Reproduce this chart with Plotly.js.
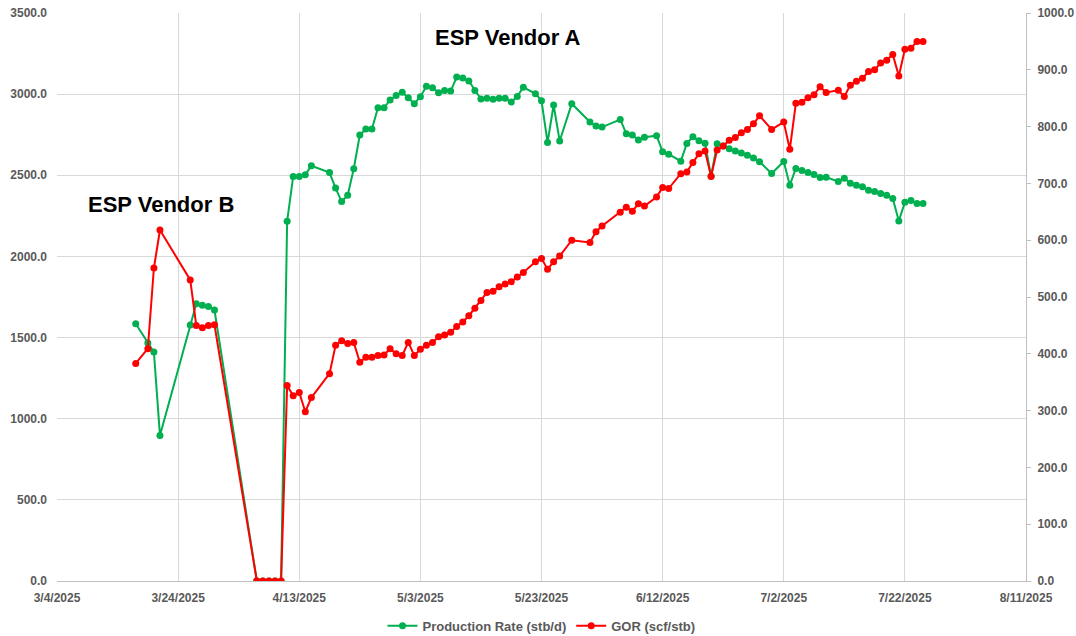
<!DOCTYPE html>
<html>
<head>
<meta charset="utf-8">
<script src="https://cdn.plot.ly/plotly-3.0.1.min.js"></script>
<style>html,body{margin:0;padding:0;background:#fff;}#chart{width:1076px;height:636px;}</style>
</head>
<body>
<div id="chart"></div>
<script>
const dates = [
  '2025-03-17','2025-03-19','2025-03-20','2025-03-21','2025-03-26','2025-03-27','2025-03-28','2025-03-29','2025-03-30',
  '2025-04-06','2025-04-07','2025-04-08','2025-04-09','2025-04-10',
  '2025-04-11','2025-04-12','2025-04-13','2025-04-14','2025-04-15','2025-04-18','2025-04-19','2025-04-20','2025-04-21',
  '2025-04-22','2025-04-23','2025-04-24','2025-04-25','2025-04-26','2025-04-27','2025-04-28','2025-04-29','2025-04-30',
  '2025-05-01','2025-05-02','2025-05-03','2025-05-04','2025-05-05','2025-05-06','2025-05-07','2025-05-08','2025-05-09',
  '2025-05-10','2025-05-11','2025-05-12','2025-05-13','2025-05-14','2025-05-15','2025-05-16','2025-05-17','2025-05-18',
  '2025-05-19','2025-05-20','2025-05-22','2025-05-23','2025-05-24','2025-05-25','2025-05-26','2025-05-28','2025-05-31',
  '2025-06-01','2025-06-02','2025-06-05','2025-06-06','2025-06-07','2025-06-08','2025-06-09','2025-06-11','2025-06-12',
  '2025-06-13','2025-06-15','2025-06-16','2025-06-17','2025-06-18','2025-06-19','2025-06-20','2025-06-21','2025-06-22',
  '2025-06-23','2025-06-24','2025-06-25','2025-06-26','2025-06-27','2025-06-28','2025-06-30','2025-07-02','2025-07-03',
  '2025-07-04','2025-07-05','2025-07-06','2025-07-07','2025-07-08','2025-07-09','2025-07-11','2025-07-12','2025-07-13',
  '2025-07-14','2025-07-15','2025-07-16','2025-07-17','2025-07-18','2025-07-19','2025-07-20','2025-07-21','2025-07-22',
  '2025-07-23','2025-07-24','2025-07-25'
];

const productionRate = [
  1585,1467,1411,897,1578,1709,1699,1692,1670,
  0,0,0,0,0,
  2217,2493,2493,2503,2559,2517,2421,2338,2377,
  2540,2748,2785,2785,2916,2916,2964,2992,3011,
  2978,2941,2984,3048,3040,3009,3023,3019,3105,
  3099,3081,3023,2970,2974,2968,2974,2974,2951,
  2986,3042,3003,2960,2702,2933,2711,2941,2828,
  2803,2797,2844,2756,2748,2717,2735,2744,2645,
  2630,2587,2696,2738,2713,2698,2495,2694,2680,
  2663,2649,2637,2624,2606,2583,2511,2585,2439,
  2542,2530,2517,2505,2487,2488,2462,2482,2451,
  2439,2429,2408,2400,2388,2377,2357,2219,2334,
  2345,2326,2326
];

const gor = [
  383,409,551,618,530,450,446,450,451,
  0,0,0,0,0,
  344,326,332,298,323,365,415,423,418,
  420,385,394,394,397,398,409,400,397,
  420,397,408,415,420,430,433,438,448,
  456,467,480,494,508,510,518,523,527,
  535,543,562,568,549,562,572,600,596,
  615,625,649,658,651,664,660,676,693,
  691,717,720,737,752,757,712,759,766,
  776,781,789,795,805,819,795,808,760,
  841,843,851,856,870,860,864,853,873,
  880,885,897,900,912,917,927,889,936,
  938,950,950
];

const seriesNames = ['Production Rate (stb/d)', 'GOR (scf/stb)'];
const annotationTexts = ['ESP Vendor A', 'ESP Vendor B'];

const FONT = 'Liberation Sans, Arial, sans-serif';
const tickFont = {family: FONT, size: 12, color: '#595959', weight: 'bold'};

const traces = [
  {
    x: dates, y: productionRate, name: seriesNames[0], type: 'scatter', mode: 'lines+markers',
    line: {color: '#00B050', width: 2}, marker: {color: '#00B050', size: 7}, yaxis: 'y'
  },
  {
    x: dates, y: gor, name: seriesNames[1], type: 'scatter', mode: 'lines+markers',
    line: {color: '#FF0000', width: 2}, marker: {color: '#FF0000', size: 7}, yaxis: 'y2'
  }
];

const layout = {
  width: 1076, height: 636,
  margin: {l: 57, r: 50, t: 13, b: 55, autoexpand: false},
  paper_bgcolor: '#ffffff', plot_bgcolor: '#ffffff',
  showlegend: true,
  hovermode: false,
  xaxis: {
    type: 'date',
    range: ['2025-03-04', '2025-08-11'],
    tick0: '2025-03-04',
    dtick: 20 * 86400000,
    tickformat: '%-m/%-d/%Y',
    showgrid: true, gridcolor: '#d9d9d9', gridwidth: 1,
    showline: true, linecolor: '#bfbfbf', linewidth: 1,
    ticks: '', zeroline: false,
    ticklabelstandoff: 6,
    tickfont: tickFont
  },
  yaxis: {
    range: [0, 3500], dtick: 500, tickformat: '.1f',
    showgrid: true, gridcolor: '#d9d9d9', gridwidth: 1,
    showline: false, zeroline: false, ticks: '',
    ticklabelstandoff: 9,
    tickfont: tickFont
  },
  yaxis2: {
    range: [0, 1000], dtick: 100, tickformat: '.1f',
    overlaying: 'y', side: 'right',
    showgrid: false, zeroline: false,
    showline: true, linecolor: '#bfbfbf', linewidth: 1,
    ticks: 'outside', ticklen: 4, tickcolor: '#bfbfbf',
    ticklabelstandoff: 4,
    tickfont: tickFont
  },
  legend: {
    orientation: 'h', x: 0.5, xanchor: 'center', y: -0.079, yanchor: 'middle',
    font: {family: FONT, size: 13, color: '#595959', weight: 'bold'},
    itemwidth: 30
  },
  annotations: [
    {text: annotationTexts[0], xref: 'paper', yref: 'paper', x: 0.465, y: 0.956, xanchor: 'center', yanchor: 'middle',
     showarrow: false, font: {family: FONT, size: 22, color: '#000000', weight: 'bold'}},
    {text: annotationTexts[1], xref: 'paper', yref: 'paper', x: 0.107, y: 0.662, xanchor: 'center', yanchor: 'middle',
     showarrow: false, font: {family: FONT, size: 22, color: '#000000', weight: 'bold'}}
  ]
};

Plotly.newPlot('chart', traces, layout, {staticPlot: true, displayModeBar: false});
</script>
</body>
</html>
